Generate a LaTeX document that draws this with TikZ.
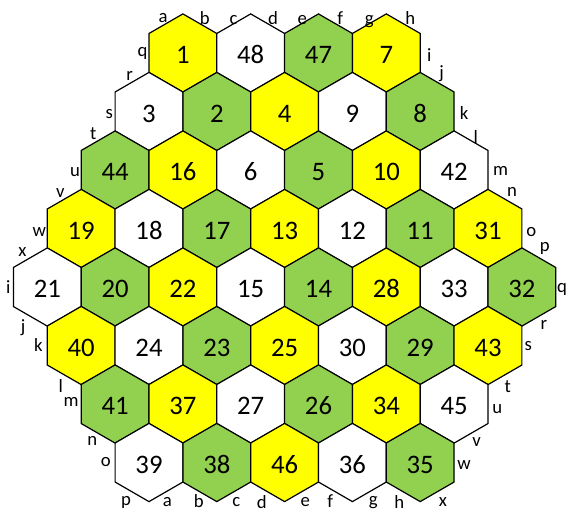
\documentclass[tikz,border=0pt]{standalone}
\usepackage{fontspec}
\setmainfont{Carlito}
\usetikzlibrary{shapes.geometric}
\definecolor{gruen}{HTML}{92D050}
\definecolor{gelb}{HTML}{FFFF00}

\tikzset{
  wabe/.style={regular polygon, regular polygon sides=6, shape border rotate=30,
    minimum size=78.2pt, inner sep=0pt, outer sep=0pt, draw, line width=1.2pt,
    font=\fontsize{26.7}{30}\selectfont, text height=21.5pt},
  randbst/.style={inner sep=0pt, font=\fontsize{18.7}{22}\selectfont}
}

\begin{document}
\begin{tikzpicture}[x=1pt, y=-1pt]
  \useasboundingbox (0,0) rectangle (568,512);
  % Waben: Zahl/Halbspalte/Reihe/Farbe
  \foreach \nr/\hs/\zr/\fb in {
      1/4/0/gelb, 48/6/0/white, 47/8/0/gruen, 7/10/0/gelb,
      3/3/1/white, 2/5/1/gruen, 4/7/1/gelb, 9/9/1/white, 8/11/1/gruen,
      44/2/2/gruen, 16/4/2/gelb, 6/6/2/white, 5/8/2/gruen, 10/10/2/gelb, 42/12/2/white,
      19/1/3/gelb, 18/3/3/white, 17/5/3/gruen, 13/7/3/gelb, 12/9/3/white, 11/11/3/gruen, 31/13/3/gelb,
      21/0/4/white, 20/2/4/gruen, 22/4/4/gelb, 15/6/4/white, 14/8/4/gruen, 28/10/4/gelb, 33/12/4/white, 32/14/4/gruen,
      40/1/5/gelb, 24/3/5/white, 23/5/5/gruen, 25/7/5/gelb, 30/9/5/white, 29/11/5/gruen, 43/13/5/gelb,
      41/2/6/gruen, 37/4/6/gelb, 27/6/6/white, 26/8/6/gruen, 34/10/6/gelb, 45/12/6/white,
      39/3/7/white, 38/5/7/gruen, 46/7/7/gelb, 36/9/7/white, 35/11/7/gruen}
    \node[wabe, fill=\fb] (w\nr) at ({47.3+33.9*\hs},{53+58.5*\zr}) {\nr};
  % Randbuchstaben
  \foreach \bu/\x/\y [count=\i] in {
      a/163/17.7, b/204.7/18.3, c/233.7/20, d/273/18.3, e/302.2/20, f/340.3/18.3, g/369.3/21.7, h/410.3/18.3,
      i/429.3/55, j/441.7/73.3, k/464/113.3, l/475.8/136.7, m/500.7/171, n/512/192.3, o/531.3/231.7, p/544.7/248.3, q/562/289,
      r/544/325.3, s/528.3/346, t/507.7/386.7, u/497.3/408.7, v/476.7/442, w/464/465.3, x/443/501.7,
      h/399.3/501.5, g/373.3/502.5, f/330.3/501.5, e/305.3/502, d/261.7/501.8, c/236.3/502, b/198.7/501.5, a/167.3/502, p/126/502.5,
      o/105.7/462.3, n/92.3/441, m/71/402.3, l/60.7/385.7, k/38.3/345, j/23/327.7, i/8.3/286.7,
      x/22.3/251.7, w/39.3/231.7, v/60.3/193.3, u/75/172.3, t/93.3/134, s/109.3/113.7, r/129.7/75.7, q/142.5/53}
    \node[randbst] (r\i) at (\x,\y) {\bu};
\end{tikzpicture}
\end{document}
